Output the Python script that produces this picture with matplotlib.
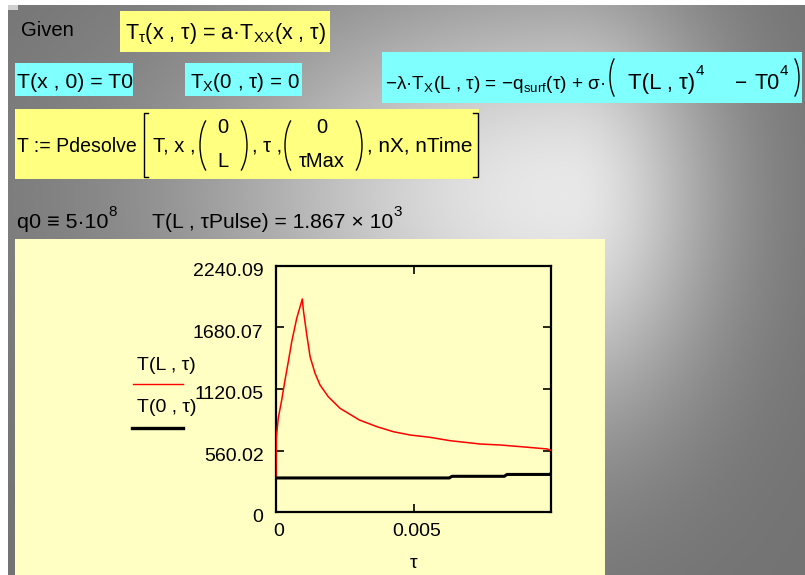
import numpy as np
import matplotlib
matplotlib.use("Agg")
import matplotlib.pyplot as plt
from matplotlib.patches import Rectangle, Arc
import matplotlib.transforms as mtransforms

plt.rcParams['font.family'] = ['Liberation Sans', 'DejaVu Sans']
plt.rcParams['mathtext.fontset'] = 'custom'
plt.rcParams['mathtext.rm'] = 'Liberation Sans'
plt.rcParams['mathtext.it'] = 'Liberation Sans'
plt.rcParams['mathtext.bf'] = 'Liberation Sans:bold'

# ---------------- data ----------------
tau_L = [0.0, 0.00001, 0.000084, 0.000208, 0.000328, 0.000448, 0.000572, 0.000754,
         0.000958, 0.000994, 0.00112, 0.00124, 0.00142, 0.0016, 0.0019, 0.00233,
         0.00303, 0.00367, 0.00427, 0.00488, 0.0056, 0.00634, 0.00743, 0.00816,
         0.00889, 0.00986, 0.01]
T_L = [312, 674, 856, 1020, 1202, 1369, 1551, 1764,
       1940, 1840, 1612, 1414, 1263, 1157, 1050, 944,
       838, 777, 731, 701, 680, 649, 619, 610,
       595, 574, 560]
tau_0 = [0.0, 0.0063, 0.0064, 0.0083, 0.0084, 0.00995, 0.01]
T_0 = [310, 310, 325, 325, 342, 342, 352]

y_ticks = [0, 560.02, 1120.05, 1680.07, 2240.09]
y_tick_labels = ["0", "560.02", "1120.05", "1680.07", "2240.09"]
x_ticks = [0, 0.005]
x_tick_labels = ["0", "0.005"]
x_max = 0.01
y_max = 2240.09

# ---------------- figure ----------------
W, H = 805, 575
fig = plt.figure(figsize=(W / 100, H / 100), dpi=100)
renderer = fig.canvas.get_renderer()
bg = fig.add_axes([0, 0, 1, 1])
bg.axis('off')

# gray gradient background of the worksheet
xx, yy = np.meshgrid(np.arange(W) + 0.5, np.arange(H) + 0.5)
cx, cy = 565, 195
sx = np.where(xx < cx, 360.0, 150.0)
sy = np.where(yy < cy, 210.0, 230.0)
g = 0.45 + 0.46 * np.exp(-((xx - cx) / sx) ** 2 - ((yy - cy) / sy) ** 2)
g[:, :8] = 1.0
g[:5, :] = 1.0
bg.imshow(np.dstack([g, g, g]), extent=(0, W, H, 0), interpolation='bilinear',
          aspect='auto', zorder=0)
bg.set_xlim(0, W)
bg.set_ylim(H, 0)
bg.add_patch(Rectangle((8, 5), 10, 5, facecolor='#cfcfcf', edgecolor='none', zorder=1))

YEL = '#ffff80'
CYA = '#80ffff'
PANEL = '#ffffc4'
FS = 14.5
SUP = 11


def box(x0, y0, x1, y1, color):
    bg.add_patch(Rectangle((x0, y0), x1 - x0, y1 - y0, facecolor=color,
                           edgecolor='none', zorder=1))


def txt(x, y, s, size=FS, ha='left'):
    return bg.text(x, y, s, fontsize=size, ha=ha, va='baseline', color='black', zorder=3)


def width(t):
    return t.get_window_extent(renderer=renderer).width


def fit(x0, x1, y, s, size=FS, lo=13.5, hi=15.5):
    """left-aligned text whose size is tuned so that it spans x0..x1 pixels"""
    t = txt(x0, y, s, size)
    w = width(t)
    if w > 0:
        t.set_fontsize(float(np.clip(size * (x1 - x0) / w, lo, hi)))
    return t


def after(t, gap, y, s, size=FS):
    """text placed right after text t"""
    x = t.get_position()[0] + width(t) + gap
    return txt(x, y, s, size)


def lparen(xl, y0, y1, w=8):
    h = y1 - y0
    bg.add_patch(Arc((xl + 2.2 * w, (y0 + y1) / 2), 4.4 * w, h * 1.1, theta1=115,
                     theta2=245, lw=1.0, color='black', zorder=3))


def rparen(xr, y0, y1, w=8):
    h = y1 - y0
    bg.add_patch(Arc((xr - 2.2 * w, (y0 + y1) / 2), 4.4 * w, h * 1.1, theta1=-65,
                     theta2=65, lw=1.0, color='black', zorder=3))


# boxes
box(120, 11, 330, 52, YEL)
box(15, 63, 133, 96, CYA)
box(185, 63, 302, 96, CYA)
box(382, 52, 802, 103, CYA)
box(15, 109, 479, 179, YEL)
box(15, 239, 605, 575, PANEL)

# texts
fit(21, 74, 36, 'Given')
fit(125, 328, 39, r'T$_{\mathrm{τ}}$(x , τ) = a·T$_{\mathrm{XX}}$(x , τ)')
fit(17, 133, 88, 'T(x , 0) = T0')
fit(190, 300, 88, r'T$_{\mathrm{X}}$(0 , τ) = 0')
fit(385, 606, 89, r'−λ·T$_{\mathrm{X}}$(L , τ) = −q$_{\mathrm{surf}}$(τ) + σ·')
lparen(610, 54, 101, w=6)
e1 = txt(628, 89, 'T(L , τ)', 16)
after(e1, 0, 75, '4', SUP)
txt(735, 89, '−', 15)
e2 = txt(754, 89, 'T0', 15.5)
after(e2, 0, 75, '4', SUP)
rparen(799, 54, 101, w=6)

# Pdesolve line
fit(17, 137, 152, 'T := Pdesolve')
bg.plot([148, 143.5, 143.5, 148], [113, 113, 177, 177], color='black', lw=1.0, zorder=3)
bg.plot([473, 477.5, 477.5, 473], [113, 113, 177, 177], color='black', lw=1.0, zorder=3)
txt(153, 152, 'T, x ,')
lparen(200, 115, 176)
txt(223, 133, '0', ha='center')
txt(223, 167, 'L', ha='center')
rparen(247, 115, 176)
txt(252, 152, ', τ ,')
lparen(285, 115, 176)
txt(322, 133, '0', ha='center')
txt(322, 167, 'τMax', ha='center')
rparen(362, 115, 176)
fit(367, 472, 152, ', nX, nTime')

# q0 line
q1 = fit(17, 108, 228, 'q0 ≡ 5·10')
after(q1, 0, 216, '8', SUP)
q2 = fit(152, 393, 228, 'T(L , τPulse) = 1.867 × 10')
after(q2, 0, 216, '3', SUP)

# legend-like labels of the plot
txt(137, 370, 'T(L , τ)', size=14)
bg.plot([133, 183], [384, 384], color='#ff0000', lw=1.0, zorder=3)
txt(137, 412, 'T(0 , τ)', size=14)
bg.plot([132, 183], [428, 428], color='black', lw=2.4, zorder=3)

# ---------------- the plot ----------------
ax = fig.add_axes([276 / W, 1 - 512 / H, 275 / W, 246 / H])
ax.set_facecolor('none')
ax.plot(tau_L, T_L, color='#ff0000', lw=1.1, zorder=3)
ax.plot(tau_0, T_0, color='black', lw=2.2, zorder=3)
ax.set_xlim(0, x_max)
ax.set_ylim(0, y_max)
ax.set_xticks(x_ticks, x_tick_labels)
ax.set_yticks(y_ticks, y_tick_labels)
ax.tick_params(direction='in', length=6, width=1.2, top=True, right=True,
               labelsize=14, colors='black')
ax.tick_params(axis='y', pad=9)
ax.tick_params(axis='x', pad=8)
for sp in ax.spines.values():
    sp.set_linewidth(1.6)
ax.set_xlabel('τ', fontsize=14, labelpad=11)

dy = mtransforms.ScaledTranslation(0, -4 / 100, fig.dpi_scale_trans)
for lab in ax.get_yticklabels():
    lab.set_transform(lab.get_transform() + dy)
dx = mtransforms.ScaledTranslation(3 / 100, 0, fig.dpi_scale_trans)
for lab in ax.get_xticklabels():
    lab.set_transform(lab.get_transform() + dx)

fig.savefig('out.png', dpi=100)
